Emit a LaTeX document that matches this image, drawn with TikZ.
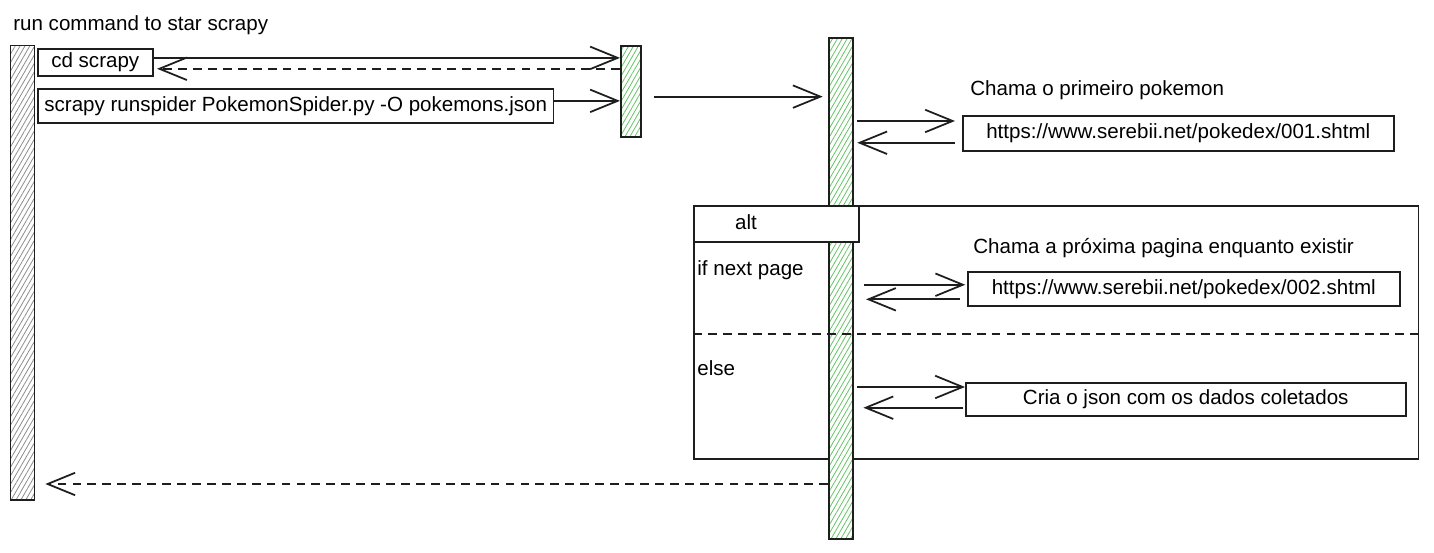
\documentclass[tikz,border=0pt]{standalone}
\usepackage{fontspec}
\setmainfont{Liberation Sans}
\usetikzlibrary{arrows.meta,patterns.meta}
\definecolor{hatchgreen}{RGB}{100,195,100}
\definecolor{hatchgray}{RGB}{140,140,140}
\definecolor{ink}{RGB}{30,30,30}
\tikzset{
	lifebar/.style={draw=ink, line width=1pt, inner sep=0pt, anchor=north west, preaction={fill=white}, pattern={Lines[angle=60,distance=2.4pt,line width=0.45pt]}, pattern color=#1},
	cmdbox/.style={draw=ink, line width=0.9pt, inner sep=0pt, anchor=north west},
	lbl/.style={anchor=west, inner sep=0pt},
	msg/.style={draw=ink, line width=1pt, -{Straight Barb[length=0.55cm,width=0.45cm,line width=1pt]}},
	reply/.style={msg, dash pattern=on 5pt off 3.5pt},
}
\begin{document}
\begin{tikzpicture}[x=0.02cm, y=-0.02cm, font=\fontsize{11.7}{14}\selectfont]
	\useasboundingbox (0,0) rectangle (1434,553);
	\node[lbl] (title) at (13,25) {run command to star scrapy};
	\node[lifebar=hatchgray, minimum width=0.48cm, minimum height=9.1cm] (user) at (10,45) {};
	\node[lifebar=hatchgreen, minimum width=0.4cm, minimum height=1.82cm] (shell) at (620,45) {};
	\node[cmdbox, minimum width=14.5cm, minimum height=5.06cm] (alt) at (693,205) {};
	\node[lifebar=hatchgreen, minimum width=0.48cm, minimum height=10.02cm] (spider) at (828,37) {};
	\node[cmdbox, fill=white, minimum width=3.3cm, minimum height=0.72cm] (altbox) at (693,205) {};
	\node (alttxt) at (746,222) {alt};
	\coordinate (sep) at (693,334);
	\draw[draw=ink, line width=0.9pt, dash pattern=on 5pt off 3.5pt] (sep) -- (sep -| alt.east);
	\node[lbl] (ifnext) at (697,270) {if next page};
	\node[lbl] (else) at (697,368) {else};
	\node[cmdbox, minimum width=2.3cm, minimum height=0.54cm] (cd) at (37,48) {cd scrapy};
	\node[cmdbox, minimum width=10.32cm, minimum height=0.68cm] (run) at (37,88) {scrapy runspider PokemonSpider.py -O pokemons.json};
	\node[lbl] (first) at (970,90) {Chama o primeiro pokemon};
	\node[cmdbox, minimum width=8.62cm, minimum height=0.7cm] (url1) at (962,115) {https://www.serebii.net/pokedex/001.shtml};
	\node[lbl] (next) at (973,248) {Chama a próxima pagina enquanto existir};
	\node[cmdbox, minimum width=8.64cm, minimum height=0.68cm] (url2) at (967,271) {https://www.serebii.net/pokedex/002.shtml};
	\node[cmdbox, minimum width=8.8cm, minimum height=0.66cm] (json) at (965,382) {Cria o json com os dados coletados};
	\draw[msg] ([yshift=2.5pt]cd.east) -- ([yshift=2.5pt]cd.east -| shell.west);
	\draw[reply, shorten >=2pt] ([yshift=-3.7pt]cd.east -| shell.west) -- ([yshift=-3.7pt]cd.east);
	\draw[msg] ([yshift=2.8pt]run.east) -- ([yshift=2.8pt]run.east -| shell.west);
	\draw[msg, shorten <=7pt, shorten >=3pt] ([yshift=-3pt]shell.east) -- ([yshift=-3pt]shell.east -| spider.west);
	\draw[msg, shorten <=2pt, shorten >=4pt] ([yshift=7pt]url1.west -| spider.east) -- ([yshift=7pt]url1.west);
	\draw[msg, shorten <=4pt, shorten >=2pt] ([yshift=-5.4pt]url1.west) -- ([yshift=-5.4pt]url1.west -| spider.east);
	\draw[msg, shorten <=6pt, shorten >=1pt] ([yshift=2.3pt]url2.west -| spider.east) -- ([yshift=2.3pt]url2.west);
	\draw[msg, shorten <=4pt, shorten >=7pt] ([yshift=-6pt]url2.west) -- ([yshift=-6pt]url2.west -| spider.east);
	\draw[msg, shorten <=2pt] ([yshift=7pt]json.west -| spider.east) -- ([yshift=7pt]json.west);
	\draw[msg, shorten <=1pt, shorten >=5.5pt] ([yshift=-4.8pt]json.west) -- ([yshift=-4.8pt]json.west -| spider.east);
	\coordinate (back) at (0,484);
	\draw[reply, shorten >=6pt] (spider.west |- back) -- (user.east |- back);
\end{tikzpicture}
\end{document}
